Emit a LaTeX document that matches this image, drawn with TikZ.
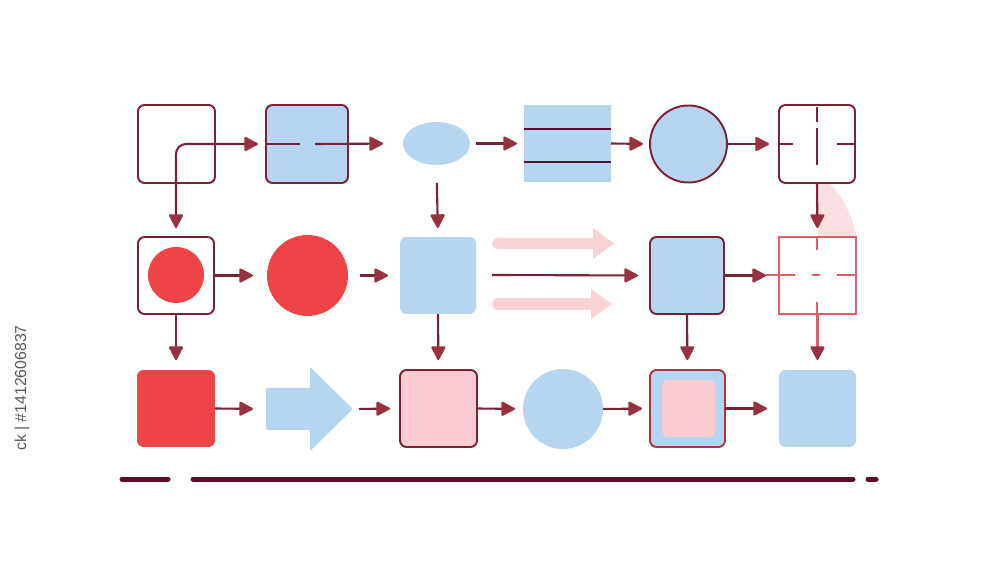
\documentclass[tikz,border=0pt]{standalone}
\usepackage{fontspec}
\setmainfont{Liberation Sans}
\usetikzlibrary{arrows.meta,shapes.geometric}
\definecolor{mar}{HTML}{7D2136}
\definecolor{linec}{HTML}{7A2236}
\definecolor{tipc}{HTML}{973341}
\definecolor{dark}{HTML}{5A0E2C}
\definecolor{blu}{HTML}{B7D5F0}
\definecolor{redf}{HTML}{EE4446}
\definecolor{pnk}{HTML}{F8CCD0}
\definecolor{lpnk}{HTML}{FAD1D5}
\definecolor{wedge}{HTML}{FBE0E3}
\definecolor{lred}{HTML}{DF5F67}
\definecolor{pred}{HTML}{B0343F}
\begin{document}
\begin{tikzpicture}[x=0.02cm,y=-0.02cm,
  every node/.style={inner sep=0pt,outer sep=0pt},
  >={Triangle[length=0.3cm,width=0.3cm,round,color=tipc]},
  obox/.style={rectangle,draw=mar,line width=1.1pt,rounded corners=0.13cm},
  fbox/.style={rectangle,rounded corners=0.13cm},
  conn/.style={draw=linec,line width=1.2pt,->},
  crossm/.style={draw=mar,line width=1.1pt},
  crossl/.style={draw=lred,line width=1.1pt},
  bar/.style={draw=dark,line width=0.1cm,line cap=round},
  parrow/.style={fill=lpnk}]
\useasboundingbox (0,0) rectangle (1000,563);

% pink wedge
\fill[wedge] (818,183) -- (818,237) -- (857,237) .. controls (850,210) and (840,192) .. (828,183) -- cycle;

% row 1
\node[obox,fill=white,minimum width=1.54cm,minimum height=1.56cm] (A) at (176.5,144) {};
\node[obox,fill=blu,minimum width=1.64cm,minimum height=1.56cm] (B) at (307,144) {};
\node[ellipse,fill=blu,minimum width=1.34cm,minimum height=0.86cm] (C) at (436.5,143.5) {};
\node[rectangle,fill=blu,minimum width=1.74cm,minimum height=1.54cm] (D) at (567.5,143.5) {};
\draw[dark,line width=1.3pt] (D.west |- 0,129) -- (D.east |- 0,129);
\draw[dark,line width=1.3pt] (D.west |- 0,162) -- (D.east |- 0,162);
\node[circle,draw=mar,line width=1.1pt,fill=blu,minimum size=1.54cm] (E) at (688.5,144) {};
\node[obox,fill=white,minimum width=1.52cm,minimum height=1.56cm] (F) at (817,144) {};
\draw[crossm] (817,107) -- (817,122);
\draw[crossm] (817,128) -- (817,165);
\draw[crossm] (780,144) -- (793,144);
\draw[crossm] (837,144) -- (855,144);

% row 2
\node[obox,fill=white,minimum width=1.52cm,minimum height=1.54cm] (G) at (176,275.5) {};
\node[circle,fill=redf,minimum size=1.12cm] (G2) at (176,275) {};
\node[circle,fill=redf,minimum size=1.62cm] (H) at (307.5,275.5) {};
\node[fbox,fill=blu,minimum width=1.52cm,minimum height=1.54cm] (I) at (438,275.5) {};
\node[obox,fill=blu,minimum width=1.48cm,minimum height=1.54cm] (J) at (687,275.5) {};
\node[rectangle,draw=lred,line width=1.1pt,minimum width=1.54cm,minimum height=1.54cm] (K) at (817.5,275.5) {};
\draw[crossl] (766,275) -- (795,275);
\draw[crossl] (812,275) -- (820,275);
\draw[crossl] (837,275) -- (856,275);
\draw[crossl] (817,237) -- (817,250);
\draw[crossl] (817,302) -- (817,314);

% pink block arrows
\draw[lpnk,line width=0.23cm,line cap=round] (498,243.5) -- (594,243.5);
\fill[parrow] (593,228) -- (614,243.5) -- (593,259) -- cycle;
\draw[lpnk,line width=0.23cm,line cap=round] (498,304) -- (592,304);
\fill[parrow] (591,289) -- (612,304) -- (591,319) -- cycle;

% row 3
\node[fbox,fill=redf,minimum width=1.56cm,minimum height=1.54cm] (L) at (176,408.5) {};
\fill[blu,rounded corners=0.04cm] (266,388) -- (310,388) -- (310,367) -- (353,409) -- (310,451) -- (310,430) -- (266,430) -- cycle;
\coordinate (Mw) at (266,409);
\coordinate (Me) at (353,409);
\node[obox,fill=pnk,minimum width=1.54cm,minimum height=1.54cm] (N) at (438.5,408.5) {};
\node[circle,fill=blu,minimum size=1.6cm] (O) at (563,409) {};
\node[obox,draw=pred,fill=blu,minimum width=1.5cm,minimum height=1.54cm] (P) at (687.5,408.5) {};
\node[fbox,fill=pnk,minimum width=1.06cm,minimum height=1.14cm] (P2) at (688.5,408.5) {};
\node[fbox,fill=blu,minimum width=1.54cm,minimum height=1.54cm] (Q) at (817.5,408.5) {};

% connectors row 1
\draw[conn,<->,rounded corners=0.2cm,shorten <=0.18cm,shorten >=0.16cm] (G.north) |- (B.west);
\draw[linec,line width=1.2pt] (B.west) -- ++(34,0);
\coordinate (Bm) at (315,144);
\draw[conn,shorten >=0.4cm] (Bm) -- (C.west);
\draw[conn,shorten <=0.12cm,shorten >=0.14cm] (C.east) -- (D.west);
\draw[conn,shorten >=0.14cm] (D.east) -- (E.west);
\draw[conn,shorten >=0.2cm] (E.east) -- (F.west);
% vertical
\draw[conn,shorten <=0.36cm,shorten >=0.18cm] (C.south) -- (I.north);
\draw[conn,draw=mar,shorten >=0.18cm] (F.south) -- (K.north);
% row 2
\draw[conn,shorten >=0.28cm] (G.east) -- (H.west);
\draw[conn,shorten <=0.24cm,shorten >=0.24cm] (H.east) -- (I.west);
\coordinate (m0) at (492,275);
\draw[conn,shorten >=0.24cm] (m0) -- (J.west);
\draw[conn,shorten >=0.26cm] (J.east) -- (K.west);
% vertical 2->3
\draw[conn,shorten >=0.2cm] (G.south) -- (L.north);
\draw[conn,shorten >=0.2cm] (I.south) -- (N.north);
\draw[conn,shorten >=0.2cm] (J.south) -- (P.north);
\draw[conn,draw=lred,shorten >=0.2cm] (K.south) -- (Q.north);
% row 3
\draw[conn,shorten >=0.26cm] (L.east) -- (Mw);
\draw[conn,shorten <=0.12cm,shorten >=0.2cm] (Me) -- (N.west);
\draw[conn,shorten >=0.16cm] (N.east) -- (O.west);
\draw[conn,shorten >=0.16cm] (O.east) -- (P.west);
\draw[conn,shorten >=0.24cm] (P.east) -- (Q.west);

% bottom bars
\draw[bar] (122,479) -- (168,479);
\draw[bar] (193,479) -- (853,479);
\draw[bar] (868,479) -- (876,479);

% side text
\node[rotate=90,text=black!65,font=\fontsize{9}{10}\selectfont] (wm) at (22,388) {ck | \#1412606837};
\end{tikzpicture}
\end{document}
